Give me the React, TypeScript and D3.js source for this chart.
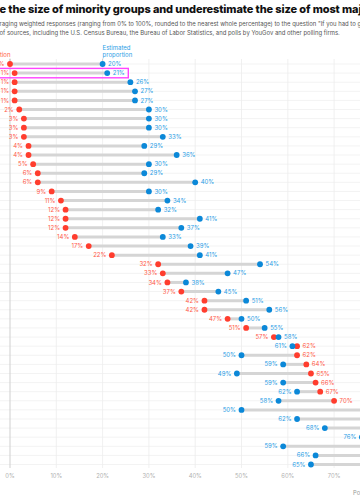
import React from "react";
import * as d3 from "d3";

// rows sorted by actual share, values in %
const actual = [0, 1, 1, 1, 1, 2, 3, 3, 3, 4, 4, 5, 6, 6, 9, 11, 12, 12, 12, 14, 17, 22, 32, 33, 34, 37, 42, 42, 47, 51, 57, 62, 62, 64, 65, 66, 67, 70, 78, 80, 83, 87, 89, 91, 93];
const estimated = [20, 21, 26, 27, 27, 30, 30, 30, 33, 29, 36, 30, 29, 40, 30, 34, 32, 41, 37, 33, 39, 41, 54, 47, 38, 45, 51, 56, 50, 55, 58, 61, 50, 59, 49, 59, 62, 58, 50, 62, 68, 76, 59, 66, 65];
const ticks = [0, 10, 20, 30, 40, 50, 60, 70, 80];
const highlightRow = 1;

const titleText = "e the size of minority groups and underestimate the size of most majority groups";
const subLines = [
  "raging weighted responses (ranging from 0% to 100%, rounded to the nearest whole percentage) to the question \"If you had to guess...\"",
  "of sources, including the U.S. Census Bureau, the Bureau of Labor Statistics, and polls by YouGov and other polling firms.",
];

const RED = "#ff3d2e";
const BLUE = "#0b88d8";
const RED_TXT = "#ff5a48";
const BLUE_TXT = "#2a9ee6";

const W = 360;
const H = 504;

export default function App() {
  const rows = d3.range(actual.length);
  const x = d3.scaleLinear().domain([0, 100]).range([10, 473]);
  const y = d3.scalePoint<number>().domain(rows).range([64, 464.5]);

  const gridTop = 59;
  const gridBottom = 468;
  const font = "Inter, 'Open Sans', sans-serif";

  return (
    <svg
      width={W}
      height={H}
      style={{ position: "absolute", left: 0, top: 0, display: "block", background: "#fff" }}
      fontFamily={font}
    >
      {/* title + subtitle */}
      <text x={-0.5} y={13} fontSize={11} fontWeight={800} fill="#111" letterSpacing={-0.12}>
        {titleText}
      </text>
      {subLines.map((s, i) => (
        <text key={i} x={-0.5} y={26 + i * 8.5} fontSize={5.95} fill="#555">
          {s}
        </text>
      ))}

      {/* full-width faint row tracks */}
      {rows.map((i) => (
        <line key={"tr" + i} x1={0} x2={W} y1={y(i)} y2={y(i)} stroke="#f3f3f3" strokeWidth={1} />
      ))}

      {/* vertical grid */}
      {ticks.map((t) => (
        <g key={"g" + t}>
          <line
            x1={x(t)}
            x2={x(t)}
            y1={gridTop}
            y2={gridBottom}
            stroke={t === 0 ? "#cfcfcf" : "#ececec"}
            strokeWidth={t === 0 ? 1 : 0.8}
          />
          <text x={x(t)} y={477.5} fontSize={5.8} fill="#b0b0b0" textAnchor="middle">
            {t}%
          </text>
        </g>
      ))}

      {/* legend */}
      <text x={10.5} y={57} fontSize={6} fill={RED_TXT} textAnchor="end">
        Actual proportion
      </text>
      <line x1={x(actual[0])} x2={x(actual[0])} y1={58.5} y2={62} stroke="#bbb" strokeWidth={0.7} />
      <text x={x(estimated[0])} y={50} fontSize={6} fill={BLUE_TXT}>
        Estimated
      </text>
      <text x={x(estimated[0])} y={57} fontSize={6} fill={BLUE_TXT}>
        proportion
      </text>
      <line x1={x(estimated[0])} x2={x(estimated[0])} y1={58.5} y2={62} stroke="#bbb" strokeWidth={0.7} />

      {/* dumbbells */}
      {rows.map((i) => {
        const a = actual[i];
        const e = estimated[i];
        const yy = y(i) as number;
        const aLeft = a <= e;
        return (
          <g key={"r" + i}>
            <line x1={x(a)} x2={x(e)} y1={yy} y2={yy} stroke="#d5d5d5" strokeWidth={3} />
            <circle cx={x(a)} cy={yy} r={2.9} fill={RED} />
            <circle cx={x(e)} cy={yy} r={2.9} fill={BLUE} />
            <text
              x={x(a) + (aLeft ? -5.5 : 5.5)}
              y={yy}
              dy="0.35em"
              fontSize={6}
              fill={RED_TXT}
              textAnchor={aLeft ? "end" : "start"}
            >
              {a}%
            </text>
            <text
              x={x(e) + (aLeft ? 5.5 : -5.5)}
              y={yy}
              dy="0.35em"
              fontSize={6}
              fill={BLUE_TXT}
              textAnchor={aLeft ? "start" : "end"}
            >
              {e}%
            </text>
          </g>
        );
      })}

      {/* highlight box */}
      <rect
        x={-20}
        y={(y(highlightRow) as number) - 4.7}
        width={148.3}
        height={9.4}
        fill="none"
        stroke="#ff44ff"
        strokeWidth={1.4}
      />

      <text x={353} y={495} fontSize={5.8} fill="#999">
        Population
      </text>
    </svg>
  );
}
